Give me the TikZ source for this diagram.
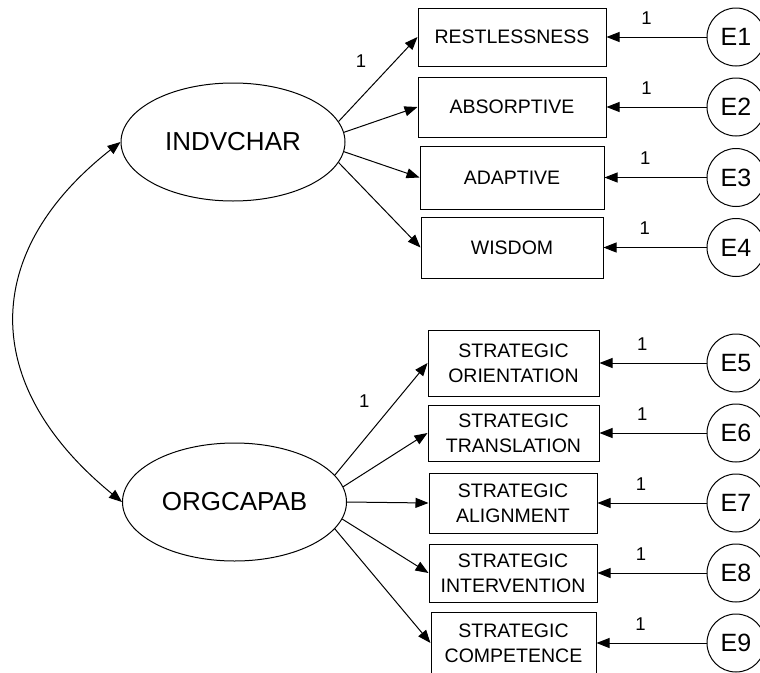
\documentclass[tikz,border=0pt]{standalone}
\usepackage{fontspec}
\setmainfont{Liberation Sans}
\usetikzlibrary{shapes.geometric,arrows.meta}

\tikzset{
  latent/.style={draw, ellipse, minimum width=224pt, minimum height=118pt, inner sep=0pt,
    font=\fontsize{26}{30}\selectfont},
  obs/.style={draw, rectangle, inner sep=0pt, align=center,
    font=\fontsize{19.5}{25}\selectfont},
  err/.style={draw, circle, minimum size=58pt, inner sep=0pt,
    font=\fontsize{25}{30}\selectfont},
  reg/.style={-{Triangle[length=13pt,width=10pt]}},
  cov/.style={{Triangle[length=13pt,width=10pt]}-{Triangle[length=13pt,width=10pt]}},
  one/.style={font=\fontsize{18.5}{20}\selectfont},
}

\begin{document}
\begin{tikzpicture}[x=1pt, y=-1pt, line width=1pt]
    \useasboundingbox (0,0) rectangle (760,672);
    % latent variables
    \node[latent] (ind) at (233, 142) {INDVCHAR};
    \node[latent] (org) at (234.5, 502) {ORGCAPAB};
    % indicators
    \node[obs, minimum width=188pt, minimum height=58pt] (rest) at (512, 37) {RESTLESSNESS};
    \node[obs, minimum width=188pt, minimum height=60pt] (abso) at (512, 107) {ABSORPTIVE};
    \node[obs, minimum width=184pt, minimum height=63pt] (adap) at (512, 177.5) {ADAPTIVE};
    \node[obs, minimum width=182pt, minimum height=61pt] (wisd) at (512, 247.5) {WISDOM};
    \node[obs, minimum width=171pt, minimum height=66pt] (orie) at (513.5, 363) {STRATEGIC\\ORIENTATION};
    \node[obs, minimum width=171pt, minimum height=56pt] (tran) at (513.5, 433) {STRATEGIC\\TRANSLATION};
    \node[obs, minimum width=168pt, minimum height=60pt] (alig) at (513, 503) {STRATEGIC\\ALIGNMENT};
    \node[obs, minimum width=168pt, minimum height=58pt] (inte) at (513, 573) {STRATEGIC\\INTERVENTION};
    \node[obs, minimum width=165pt, minimum height=62pt] (comp) at (513.5, 643) {STRATEGIC\\COMPETENCE};
    % errors
    \node[err] (e1) at (736, 37) {E1};
    \node[err] (e2) at (736, 107) {E2};
    \node[err] (e3) at (736, 177.5) {E3};
    \node[err] (e4) at (736, 247.5) {E4};
    \node[err] (e5) at (736, 363) {E5};
    \node[err] (e6) at (736, 433) {E6};
    \node[err] (e7) at (736, 503) {E7};
    \node[err] (e8) at (736, 573) {E8};
    \node[err] (e9) at (736, 643) {E9};
    % loadings
    \draw[reg] (ind.11) to node[one, above left=8pt] {1} (rest.west);
    \draw[reg] (ind.5) to (abso.west);
    \draw[reg] (ind.-5) to (adap.west);
    \draw[reg] (ind.-11) to (wisd.west);
    \draw[reg] (org.15) to node[one, above left=8pt] {1} (orie.west);
    \draw[reg] (org.8) to (tran.west);
    \draw[reg] (org.0) to (alig.west);
    \draw[reg] (org.-9) to (inte.west);
    \draw[reg] (org.-15) to (comp.west);
    % error paths
    \draw[reg] (e1) to node[one, pos=.6, above=9pt] {1} (rest.east);
    \draw[reg] (e2) to node[one, pos=.6, above=9pt] {1} (abso.east);
    \draw[reg] (e3) to node[one, pos=.6, above=9pt] {1} (adap.east);
    \draw[reg] (e4) to node[one, pos=.6, above=9pt] {1} (wisd.east);
    \draw[reg] (e5) to node[one, pos=.6, above=9pt] {1} (orie.east);
    \draw[reg] (e6) to node[one, pos=.6, above=9pt] {1} (tran.east);
    \draw[reg] (e7) to node[one, pos=.6, above=9pt] {1} (alig.east);
    \draw[reg] (e8) to node[one, pos=.6, above=9pt] {1} (inte.east);
    \draw[reg] (e9) to node[one, pos=.6, above=9pt] {1} (comp.east);
    % covariance
    \draw[cov] (ind.west) .. controls +(-140,110) and +(-143,-117) .. (org.west);
  \end{tikzpicture}
\end{document}
